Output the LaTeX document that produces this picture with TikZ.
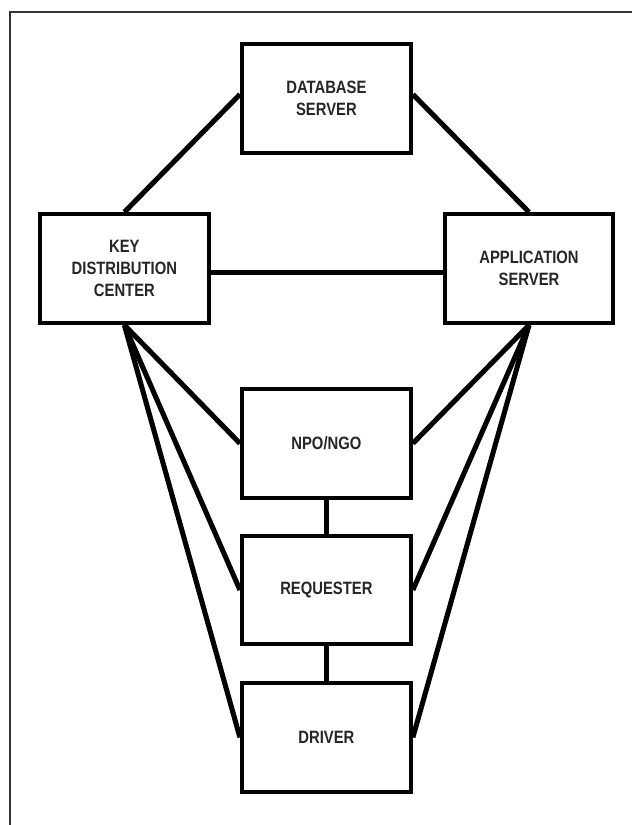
\documentclass[tikz,border=0pt]{standalone}
\usepackage{fontspec}
\setsansfont{Liberation Sans}[FakeStretch=0.83]
\usepackage{tikz}
\usetikzlibrary{positioning}

\begin{document}
\begin{tikzpicture}[
    font=\sffamily\bfseries\fontsize{12.7}{15.6}\selectfont,
    box/.style={draw, line width=3.1pt, minimum width=4.215cm, minimum height=2.715cm,
                align=center, inner sep=0pt, text=black!85},
    link/.style={line width=3.6pt}
]

% --- RAHMEN ---
\useasboundingbox (0,0) rectangle (15.8,20.625);
\clip (0,0) rectangle (15.8,20.625);
\fill[white] (0,0) rectangle (15.8,20.625);
\draw[line width=1.4pt, black!80] (0.25,-1) rectangle (17,20.325);

% --- KNOTEN ---
\node[box] (db)  at (8.16,18.16)  {DATABASE\\SERVER};
\node[box] (kdc) at (3.11,13.91)  {KEY\\DISTRIBUTION\\CENTER};
\node[box] (app) at (13.225,13.91) {APPLICATION\\SERVER};
\node[box] (ngo) at (8.16,9.54)   {NPO/NGO};
\node[box] (req) at (8.16,5.875)  {REQUESTER};
\node[box] (drv) at (8.16,2.19)   {DRIVER};

% --- OBERES DREIECK ---
\draw[link] (kdc.north) -- ([yshift=3pt]db.west);
\draw[link] (app.north) -- ([yshift=3pt]db.east);
\draw[link] ([yshift=-3pt]kdc.east) -- ([yshift=-3pt]app.west);

% --- FAECHER KDC / APP ---
\foreach \n in {ngo, req, drv} {
  \draw[link] (kdc.south) -- (\n.west);
  \draw[link] (app.south) -- (\n.east);
}

% --- KETTE ---
\draw[link] (ngo) -- (req);
\draw[link] (req) -- (drv);

\end{tikzpicture}
\end{document}
